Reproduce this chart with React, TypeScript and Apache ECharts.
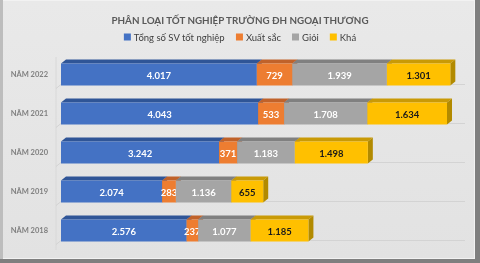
import React, { useEffect, useRef } from "react";
import * as echarts from "echarts";

const categories = ["NĂM 2018", "NĂM 2019", "NĂM 2020", "NĂM 2021", "NĂM 2022"];
const tongSo = [2576, 2074, 3242, 4043, 4017];
const xuatSac = [237, 283, 371, 533, 729];
const gioi = [1077, 1136, 1183, 1708, 1939];
const kha = [1185, 655, 1498, 1634, 1301];

const seriesNames = ["Tổng số SV tốt nghiệp", "Xuất sắc", "Giỏi", "Khá"];
const seriesValues = [tongSo, xuatSac, gioi, kha];
const colors = ["#4472C4", "#ED7D31", "#A5A5A5", "#FFC000"];
const topColors = ["#2F5597", "#C0622A", "#808080", "#C99A06"];
const sideColors = ["#2F5597", "#B45A22", "#7A7A7A", "#B28A00"];
const labelColors = ["#ffffff", "#ffffff", "#ffffff", "#1a1a1a"];

const DX = 5;
const DY = 4;
const BAR_H = 22;
const FONT = "Lato, 'Open Sans', sans-serif";

const fmt = (v: number) => String(v).replace(/\B(?=(\d{3})+(?!\d))/g, ".");

function buildData(idx: number) {
  return categories.map((_, c) => {
    let start = 0;
    for (let k = 0; k < idx; k++) start += seriesValues[k][c];
    const v = seriesValues[idx][c];
    return [c, start, start + v, v];
  });
}

function makeRender(i: number) {
  return (_params: any, api: any) => {
    const cat = api.value(0);
    const p0 = api.coord([api.value(1), cat]);
    const p1 = api.coord([api.value(2), cat]);
    const v = api.value(3);
    const x0 = p0[0];
    const x1 = p1[0];
    const yc = p0[1];
    const yt = yc - BAR_H / 2;
    const yb = yc + BAR_H / 2;
    return {
      type: "group",
      children: [
        {
          type: "polygon",
          shape: { points: [[x0, yt], [x0 + DX, yt - DY], [x1 + DX, yt - DY], [x1, yt]] },
          style: { fill: topColors[i] },
        },
        {
          type: "polygon",
          shape: { points: [[x1, yt], [x1 + DX, yt - DY], [x1 + DX, yb - DY], [x1, yb]] },
          style: { fill: sideColors[i] },
        },
        {
          type: "rect",
          shape: { x: x0, y: yt, width: x1 - x0, height: BAR_H },
          style: { fill: colors[i] },
        },
        {
          type: "text",
          x: (x0 + x1) / 2,
          y: yc + 0.5,
          style: {
            text: fmt(v),
            fill: labelColors[i],
            font: `bold 9.5px ${FONT}`,
            align: "center",
            verticalAlign: "middle",
          },
        },
      ],
    };
  };
}

function floorRender(_params: any, api: any) {
  const cat = api.value(0);
  const p0 = api.coord([0, cat]);
  const p1 = api.coord([8000, cat]);
  const yb = p0[1] + BAR_H / 2 - 1;
  return {
    type: "group",
    children: [
      {
        type: "polyline",
        shape: { points: [[p0[0] - 5, yb + 4], [p0[0], yb], [p1[0] + 14, yb]] },
        style: { stroke: "#d3d3d3", lineWidth: 1, fill: "none" },
      },
    ],
  };
}

export default function App() {
  const ref = useRef<HTMLDivElement>(null);
  useEffect(() => {
    if (!ref.current) return;
    const chart = echarts.init(ref.current, null, { renderer: "svg" });
    const series: any[] = [
      {
        type: "custom",
        name: "floor",
        silent: true,
        renderItem: floorRender,
        data: categories.map((_, c) => [c, 0]),
        encode: { x: 1, y: 0 },
        z: 1,
      },
    ];
    seriesNames.forEach((name, i) => {
      series.push({
        type: "custom",
        name,
        renderItem: makeRender(i),
        data: buildData(i),
        encode: { x: [1, 2], y: 0 },
        itemStyle: { color: colors[i] },
        z: 2,
      });
    });
    chart.setOption({
      animation: false,
      backgroundColor: "transparent",
      graphic: [
        { type: "rect", z: -10, shape: { x: 0, y: 0, width: 480, height: 263 }, style: { fill: "#7f7f7f" } },
        { type: "rect", z: -9, shape: { x: 0, y: 0, width: 475, height: 259 }, style: { fill: "#f2f2f2" } },
        { type: "rect", z: -8, shape: { x: 0, y: 0, width: 3, height: 259 }, style: { fill: "#bdbdbd" } },
        {
          type: "rect",
          z: -7,
          shape: { x: 3, y: 1, width: 471, height: 257 },
          style: {
            fill: new echarts.graphic.LinearGradient(0, 0, 0, 1, [
              { offset: 0, color: "#e9e9e9" },
              { offset: 1, color: "#e2e2e2" },
            ]),
          },
        },
        {
          type: "line",
          z: -6,
          shape: { x1: 56, y1: 57, x2: 56, y2: 250 },
          style: { stroke: "#d8d8d8", lineWidth: 1 },
        },
      ],
      title: {
        text: "PHÂN LOẠI TỐT NGHIỆP TRƯỜNG ĐH NGOẠI THƯƠNG",
        left: "center",
        top: 10,
        textStyle: { fontFamily: FONT, fontSize: 9.8, fontWeight: "bold", color: "#595959" },
      },
      legend: {
        data: seriesNames,
        top: 27,
        left: "center",
        icon: "rect",
        itemWidth: 7,
        itemHeight: 7,
        itemGap: 11,
        textStyle: { fontFamily: FONT, fontSize: 9.5, color: "#404040", padding: [0, 0, 0, -2] },
      },
      grid: { left: 61, top: 55, width: 390, height: 195, containLabel: false },
      xAxis: {
        type: "value",
        min: 0,
        max: 8000,
        show: false,
      },
      yAxis: {
        type: "category",
        data: categories,
        axisLine: { show: false },
        axisTick: { show: false },
        splitLine: { show: false },
        axisLabel: {
          margin: 13,
          fontFamily: FONT,
          fontSize: 7.5,
          fontWeight: "bold",
          color: "#7f7f7f",
          padding: [9, 0, 0, 0],
        },
      },
      series,
    });
    return () => chart.dispose();
  }, []);
  return (
    <div style={{ position: "fixed", left: 0, top: 0, width: 480, height: 263 }}>
      <div ref={ref} style={{ width: 480, height: 263 }} />
    </div>
  );
}
